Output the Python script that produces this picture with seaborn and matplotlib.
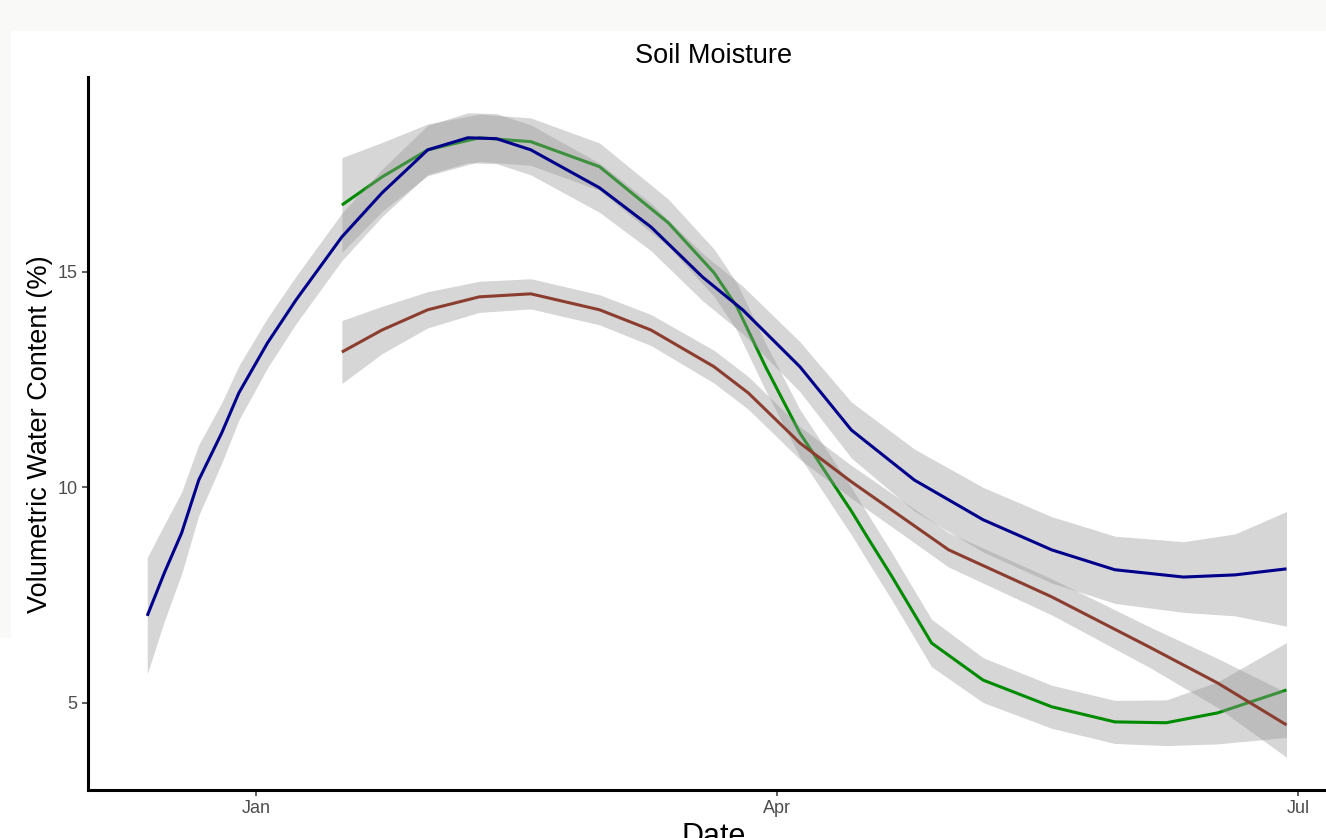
import matplotlib
matplotlib.use("Agg")
import matplotlib.pyplot as plt
import matplotlib.dates as mdates
from matplotlib.patches import Rectangle
import pandas as pd
import seaborn as sns

# --- data (smoothed VWC per site, +/- band half-width) ---
blue_dates = ["2019-12-13", "2019-12-16", "2019-12-19", "2019-12-22", "2019-12-26",
              "2019-12-29", "2020-01-03", "2020-01-08", "2020-01-16", "2020-01-23",
              "2020-01-31", "2020-02-07", "2020-02-12", "2020-02-18", "2020-03-01",
              "2020-03-10", "2020-03-19", "2020-03-26", "2020-04-05", "2020-04-14",
              "2020-04-25", "2020-05-07", "2020-05-19", "2020-05-30", "2020-06-11",
              "2020-06-20", "2020-06-29"]
blue_vwc = [7.02, 8.02, 8.94, 10.17, 11.26, 12.19, 13.35, 14.35, 15.81, 16.83,
            17.83, 18.11, 18.09, 17.83, 16.95, 16.04, 14.88, 14.12, 12.80, 11.33,
            10.17, 9.25, 8.55, 8.09, 7.92, 7.97, 8.11]
blue_band = [1.35, 1.12, 0.95, 0.82, 0.70, 0.63, 0.58, 0.55, 0.55, 0.55,
             0.57, 0.58, 0.58, 0.58, 0.57, 0.55, 0.55, 0.55, 0.58, 0.65,
             0.72, 0.75, 0.77, 0.78, 0.82, 0.95, 1.33]

green_dates = ["2020-01-16", "2020-01-23", "2020-01-31", "2020-02-09", "2020-02-18",
               "2020-03-01", "2020-03-13", "2020-03-21", "2020-03-25", "2020-03-30",
               "2020-04-05", "2020-04-11", "2020-04-14", "2020-04-17", "2020-04-21",
               "2020-04-28", "2020-05-07", "2020-05-19", "2020-05-30", "2020-06-08",
               "2020-06-17", "2020-06-29"]
green_vwc = [16.55, 17.20, 17.83, 18.11, 18.02, 17.44, 16.14, 14.98, 14.19, 12.80,
             11.26, 10.05, 9.45, 8.80, 7.95, 6.39, 5.53, 4.91, 4.56, 4.54,
             4.77, 5.30]
green_band = [1.10, 0.80, 0.60, 0.55, 0.55, 0.55, 0.55, 0.55, 0.55, 0.55,
              0.55, 0.55, 0.55, 0.55, 0.55, 0.55, 0.52, 0.50, 0.50, 0.53,
              0.72, 1.10]

brown_dates = ["2020-01-16", "2020-01-23", "2020-01-31", "2020-02-09", "2020-02-18",
               "2020-03-01", "2020-03-10", "2020-03-21", "2020-03-27", "2020-04-05",
               "2020-04-14", "2020-05-01", "2020-05-19", "2020-06-05", "2020-06-17",
               "2020-06-29"]
brown_vwc = [13.14, 13.65, 14.12, 14.42, 14.49, 14.12, 13.65, 12.80, 12.19, 11.03,
             10.13, 8.55, 7.46, 6.30, 5.46, 4.49]
brown_band = [0.73, 0.55, 0.42, 0.36, 0.35, 0.35, 0.36, 0.38, 0.38, 0.38,
              0.38, 0.40, 0.42, 0.47, 0.57, 0.75]

series = [
    (green_dates, green_vwc, green_band, "#008B00"),
    (brown_dates, brown_vwc, brown_band, "#8B3E2F"),
    (blue_dates, blue_vwc, blue_band, "#00008B"),
]

sns.set_style("white")
plt.rcParams["font.family"] = ["Liberation Sans", "DejaVu Sans"]

W, H = 1326, 838
fig = plt.figure(figsize=(W / 100, H / 100), dpi=100, facecolor="white")

# off-white margins of the screenshot
fig.patches.append(Rectangle((0, 1 - 31 / H), 1, 31 / H, transform=fig.transFigure,
                             facecolor="#f9f9f7", edgecolor="none", zorder=0))
fig.patches.append(Rectangle((0, 1 - 638 / H), 11 / W, 607 / H, transform=fig.transFigure,
                             facecolor="#f9f9f7", edgecolor="none", zorder=0))

ax = fig.add_axes([88 / W, (H - 790) / H, (1340 - 88) / W, (790 - 77) / H])
ax.set_facecolor("white")

z = 2
for dates, vwc, band, color in series:
    df = pd.DataFrame({"date": pd.to_datetime(dates), "vwc": vwc, "band": band})
    ax.fill_between(df["date"], df["vwc"] - df["band"], df["vwc"] + df["band"],
                    color="#999999", alpha=0.4, linewidth=0, zorder=z)
    sns.lineplot(data=df, x="date", y="vwc", ax=ax, color=color, linewidth=2.2,
                 sort=False, zorder=z + 1, solid_joinstyle="round",
                 solid_capstyle="butt")
    z += 2

# axis ranges (px per day ~5.725, Jan 1 at x=256)
jan1 = pd.Timestamp("2020-01-01")
ax.set_xlim(jan1 + pd.Timedelta(days=(88 - 256) / 5.725),
            jan1 + pd.Timedelta(days=(1340 - 256) / 5.725))
ax.set_ylim(2.98, 19.52)

ax.xaxis.set_major_locator(mdates.MonthLocator(bymonth=[1, 4, 7]))
ax.xaxis.set_major_formatter(mdates.DateFormatter("%b"))
ax.set_yticks([5, 10, 15])
ax.set_xlabel("")
ax.set_ylabel("")

sns.despine(ax=ax)
for s in ["left", "bottom"]:
    ax.spines[s].set_linewidth(2.2)
    ax.spines[s].set_color("black")
ax.tick_params(axis="both", bottom=True, left=True, length=4.5, width=1.1,
               color="#333333", labelcolor="#4d4d4d", labelsize=13, pad=3)

fig.text(714 / W, 1 - 63 / H, "Soil Moisture", ha="center", va="baseline",
         fontsize=19.5, color="black")
fig.text(40 / W, 1 - 434 / H, "Volumetric Water Content (%)", rotation=90,
         ha="center", va="center", fontsize=19.5, color="black")
fig.text(714 / W, 1 - 845 / H, "Date", ha="center", va="baseline",
         fontsize=22, color="black")

fig.savefig("out.png", dpi=100, facecolor=fig.get_facecolor())
